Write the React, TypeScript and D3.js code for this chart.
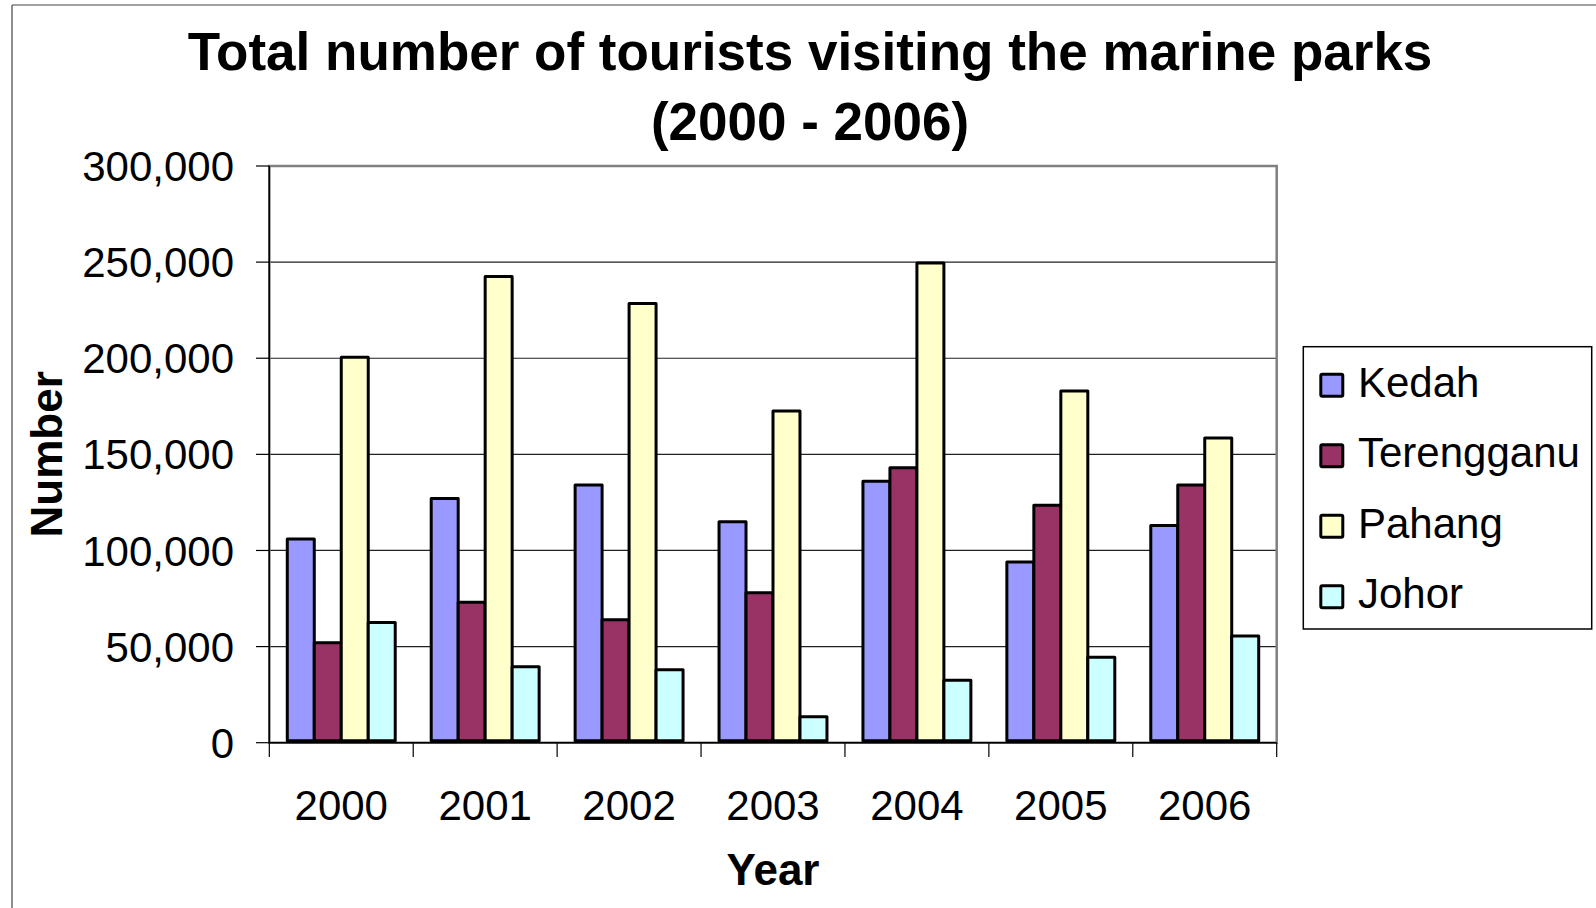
import React from "react";
import * as d3 from "d3";

const years = ["2000", "2001", "2002", "2003", "2004", "2005", "2006"];
const seriesNames = ["Kedah", "Terengganu", "Pahang", "Johor"];
const kedah = [106000, 127000, 134000, 115000, 136000, 94000, 113000];
const terengganu = [52000, 73000, 64000, 78000, 143000, 123500, 134000];
const pahang = [200500, 242500, 228500, 172500, 249500, 183000, 158500];
const johor = [62500, 39500, 38000, 13500, 32500, 44500, 55500];
const seriesColors = ["#9999FF", "#993366", "#FFFFCC", "#CCFFFF"];
const yTicks = [0, 50000, 100000, 150000, 200000, 250000, 300000];

const seriesValues = [kedah, terengganu, pahang, johor];

const W = 1596;
const H = 908;
const plot = { left: 269.3, right: 1276.7, top: 166, bottom: 742.7 };
const font = "'Liberation Sans', Arial, Helvetica, sans-serif";

export default function App() {
  const x0 = d3
    .scaleBand<string>()
    .domain(years)
    .range([plot.left, plot.right])
    .paddingInner(0.25)
    .paddingOuter(0.125);
  const x1 = d3
    .scaleBand<string>()
    .domain(seriesNames)
    .range([0, x0.bandwidth()])
    .padding(0);
  const y = d3.scaleLinear().domain([0, 300000]).range([plot.bottom, plot.top]);
  const fmt = d3.format(",");
  const step = (plot.right - plot.left) / years.length;
  const boundaries = d3.range(years.length + 1).map((i) => plot.left + i * step);

  return (
    <svg
      width={W}
      height={H}
      style={{ position: "absolute", left: 0, top: 0, background: "#fff" }}
      fontFamily={font}
    >
      <rect x={0} y={0} width={W} height={H} fill="#fff" />
      {/* outer frame */}
      <line x1={12} y1={5} x2={W} y2={5} stroke="#444" strokeWidth={1.2} />
      <line x1={12} y1={5} x2={12} y2={H} stroke="#444" strokeWidth={1.2} />

      {/* title */}
      <text x={810} y={70} textAnchor="middle" fontWeight="bold" fontSize={53} fill="#000">
        Total number of tourists visiting the marine parks
      </text>
      <text x={810} y={140} textAnchor="middle" fontWeight="bold" fontSize={53} fill="#000">
        (2000 - 2006)
      </text>

      {/* gridlines */}
      {yTicks.slice(1, -1).map((t) => (
        <line
          key={"g" + t}
          x1={plot.left}
          x2={plot.right}
          y1={y(t)}
          y2={y(t)}
          stroke="#222"
          strokeWidth={1.2}
        />
      ))}

      {/* plot border */}
      <rect
        x={plot.left}
        y={plot.top}
        width={plot.right - plot.left}
        height={plot.bottom - plot.top}
        fill="none"
        stroke="#808080"
        strokeWidth={2.5}
      />

      {/* bars */}
      {years.map((yr, i) => (
        <g key={yr} transform={`translate(${x0(yr)},0)`}>
          {seriesNames.map((s, j) => {
            const v = seriesValues[j][i];
            return (
              <rect
                key={s}
                x={x1(s)!}
                y={y(v)}
                width={x1.bandwidth()}
                height={plot.bottom - 2 - y(v)}
                fill={seriesColors[j]}
                stroke="#000"
                strokeWidth={3}
                strokeLinejoin="round"
              />
            );
          })}
        </g>
      ))}

      {/* axes */}
      <line x1={plot.left} x2={plot.left} y1={plot.top} y2={plot.bottom} stroke="#000" strokeWidth={1.5} />
      <line x1={plot.left} x2={plot.right} y1={plot.bottom} y2={plot.bottom} stroke="#000" strokeWidth={1.5} />
      {yTicks.map((t) => (
        <g key={"yt" + t}>
          <line x1={256} x2={plot.left} y1={y(t)} y2={y(t)} stroke="#000" strokeWidth={1.2} />
          <text x={234} y={y(t)} dy="0.36em" textAnchor="end" fontSize={42} fill="#000">
            {fmt(t)}
          </text>
        </g>
      ))}
      {boundaries.map((bx, i) => (
        <line key={"xt" + i} x1={bx} x2={bx} y1={plot.bottom} y2={757} stroke="#000" strokeWidth={1.2} />
      ))}
      {years.map((yr) => (
        <text
          key={"xl" + yr}
          x={x0(yr)! + x0.bandwidth() / 2}
          y={820}
          textAnchor="middle"
          fontSize={42}
          fill="#000"
        >
          {yr}
        </text>
      ))}

      {/* axis titles */}
      <text x={773} y={885} textAnchor="middle" fontWeight="bold" fontSize={44} fill="#000">
        Year
      </text>
      <text
        transform={`translate(62,${(plot.top + plot.bottom) / 2}) rotate(-90)`}
        textAnchor="middle"
        fontWeight="bold"
        fontSize={44}
        fill="#000"
      >
        Number
      </text>

      {/* legend */}
      <rect x={1303.3} y={346.7} width={288.4} height={282.3} fill="#fff" stroke="#000" strokeWidth={1.5} />
      {seriesNames.map((s, j) => {
        const base = 396.7 + j * 70.5;
        return (
          <g key={"lg" + s}>
            <rect
              x={1320.8}
              y={base - 22.5}
              width={22}
              height={22}
              fill={seriesColors[j]}
              stroke="#000"
              strokeWidth={3}
              rx={1.5}
            />
            <text x={1358} y={base} fontSize={42} fill="#000">
              {s}
            </text>
          </g>
        );
      })}
    </svg>
  );
}
